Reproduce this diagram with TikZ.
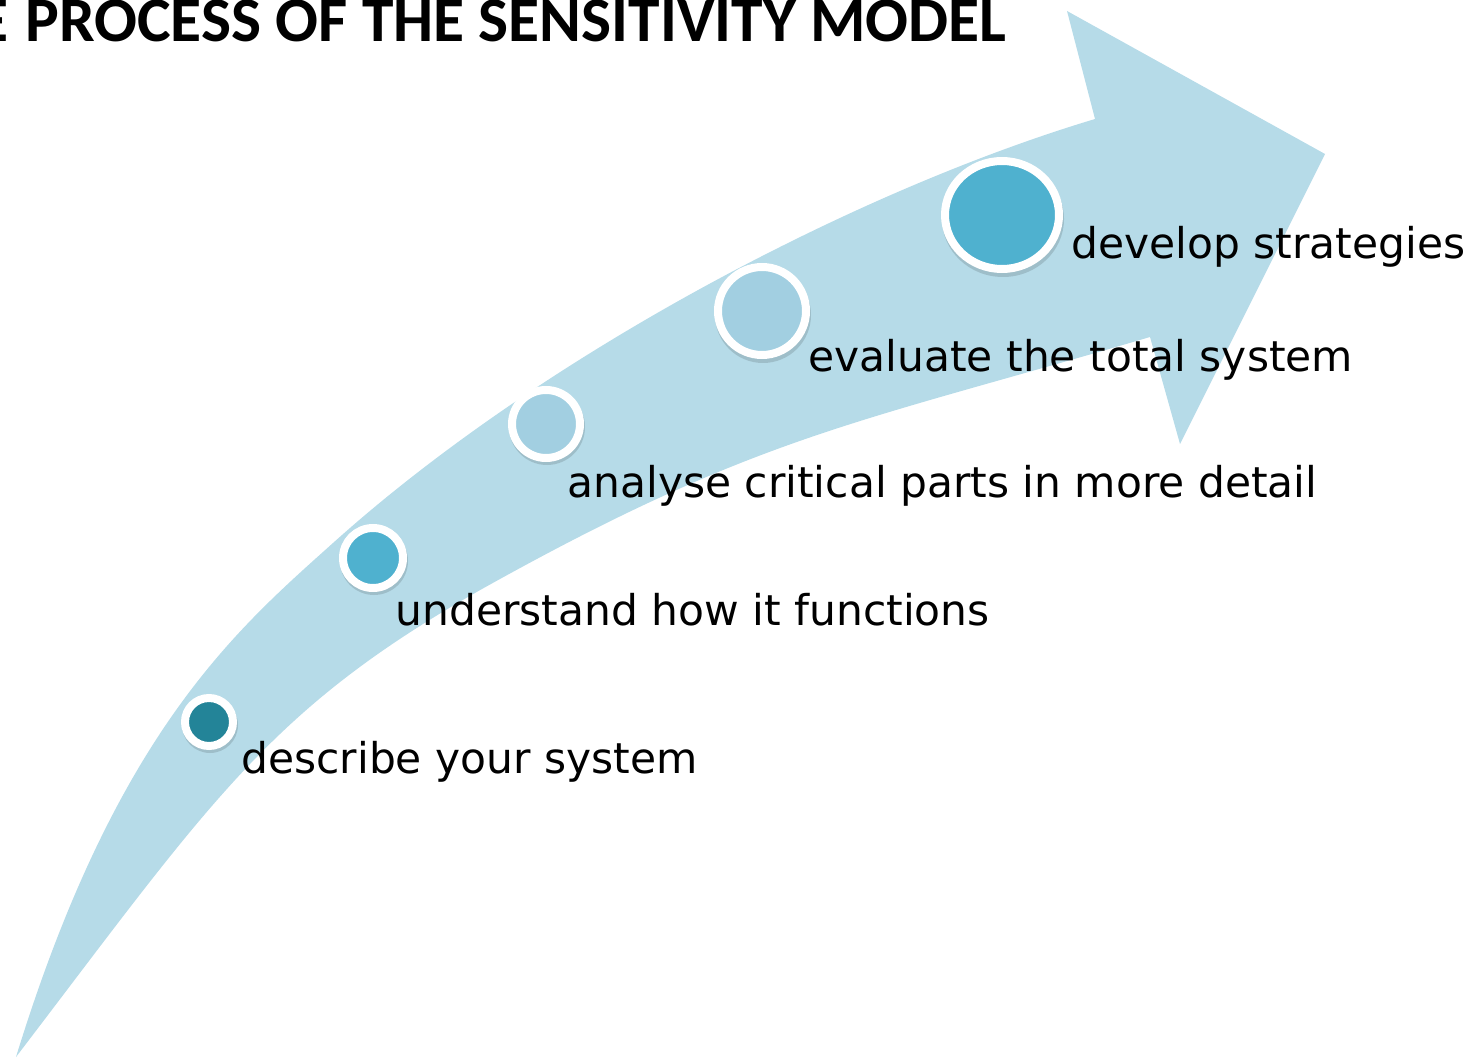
\documentclass[tikz,border=0pt]{standalone}
\usepackage{fontspec}
\setmainfont{DejaVu Sans}
\newfontfamily\titlefont{Carlito}
\usetikzlibrary{shapes.geometric}
\definecolor{arrowblue}{HTML}{B6DBE8}
\definecolor{darkteal}{HTML}{238498}
\definecolor{midblue}{HTML}{4FB1CF}
\definecolor{paleblue}{HTML}{A2CFE1}
\tikzset{
  steplabel/.style={anchor=base west, inner sep=0pt, font=\fontsize{21.2pt}{25pt}\selectfont},
  dot/.style={circle, draw=white, line width=4pt, inner sep=0pt},
  dotshadow/.style={fill=black, opacity=0.13},
}
\begin{document}
\begin{tikzpicture}[x=0.5pt,y=-0.5pt]
\useasboundingbox (0,0) rectangle (1465,1058);
\clip (0,0) rectangle (1465,1058);

% big curved arrow
\coordinate (tail) at (16,1057);
\coordinate (om) at (333,543);
\coordinate (on) at (1095,119);
\coordinate (ht) at (1067,11);
\coordinate (hp) at (1325,154);
\coordinate (hb) at (1180,444);
\coordinate (in) at (1150,337);
\coordinate (im) at (500,579);
\fill[arrowblue]
  (tail) .. controls (116,732) and (236,630) .. (om)
         .. controls (541,356) and (855,191) .. (on)
  -- (ht) -- (hp) -- (hb) -- (in)
         .. controls (862,422) and (763,434) .. (im)
         .. controls (272,704) and (216,795) .. (tail)
  -- cycle;

% title
\node[anchor=base east, inner sep=0pt, font=\titlefont\bfseries\fontsize{31.75pt}{36pt}\selectfont] (title) at (1007,42) {E\kern1.5pt{} PROCESS OF THE SENSITIVITY MODEL};

% shadows
\fill[dotshadow] (210,725) circle (28);
\fill[dotshadow] (374,561) circle (34);
\fill[dotshadow] (547,427) circle (38);
\fill[dotshadow] (763,315) circle (48);
\fill[dotshadow] (1003,219) ellipse (61 and 58);

% step dots
\node[dot, fill=darkteal, minimum size=24pt] (d1) at (209,722) {};
\node[dot, fill=midblue, minimum size=30pt] (d2) at (373,558) {};
\node[dot, fill=paleblue, minimum size=34pt] (d3) at (546,424) {};
\node[dot, fill=paleblue, minimum size=44pt] (d4) at (762,311) {};
\node[ellipse, draw=white, line width=4pt, inner sep=0pt, fill=midblue, minimum width=57pt, minimum height=54pt] (d5) at (1002,215) {};

% labels
\node[steplabel] (l1) at (241,773) {describe your system};
\node[steplabel] (l2) at (395,625) {understand how it functions};
\node[steplabel] (l3) at (567,497) {analyse critical parts in more detail};
\node[steplabel] (l4) at (808,372) {evaluate the total system};
\node[steplabel] (l5) at (1071,259) {develop strategies};
\end{tikzpicture}
\end{document}
